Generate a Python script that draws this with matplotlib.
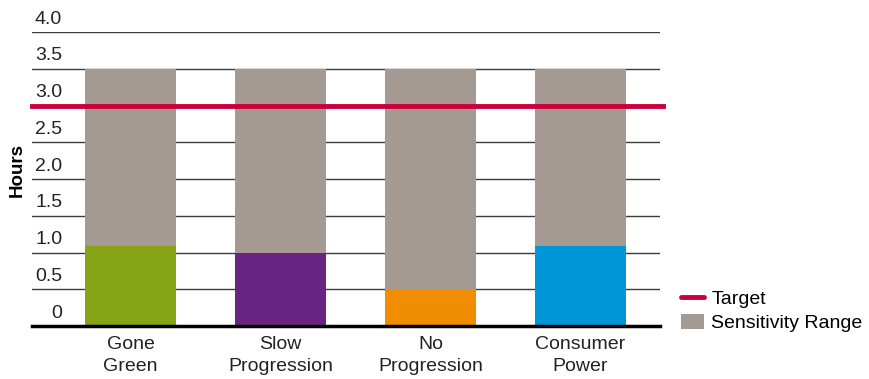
import numpy as np
import matplotlib.pyplot as plt
from matplotlib.lines import Line2D
from matplotlib.patches import Patch

plt.rcParams['font.family'] = ['Liberation Sans', 'DejaVu Sans']

# ---- data ----
scenarios = ['Gone\nGreen', 'Slow\nProgression', 'No\nProgression', 'Consumer\nPower']
low_values = [1.09, 1.0, 0.49, 1.09]
high_values = [3.5, 3.5, 3.5, 3.5]
bar_colors = ['#86A316', '#692482', '#F18D00', '#0096D7']
target = 3.0
y_ticks = [0, 0.5, 1.0, 1.5, 2.0, 2.5, 3.0, 3.5, 4.0]
y_tick_labels = ['0', '0.5', '1.0', '1.5', '2.0', '2.5', '3.0', '3.5', '4.0']

RANGE_COLOR = '#A59A91'
TARGET_COLOR = '#C8003C'
FS = 14

fig = plt.figure(figsize=(8.7, 3.79), dpi=100)
ax = fig.add_axes([32 / 870, 1 - 326 / 379, 628 / 870, 294 / 379])

x = np.arange(len(scenarios))
low = np.array(low_values)
high = np.array(high_values)

# gridlines behind bars
for yt in y_ticks[1:]:
    ax.axhline(yt, color='#3a3a3a', linewidth=1.0, zorder=0)

ax.bar(x, low, 0.607, color=bar_colors, zorder=2)
ax.bar(x, high - low, 0.607, bottom=low, color=RANGE_COLOR, zorder=2)
ax.axhline(target, color=TARGET_COLOR, linewidth=3.5, zorder=3, xmax=1.005, clip_on=False)

# tick labels sit above their gridlines, inside the plot
for yt, lab in zip(y_ticks, y_tick_labels):
    ax.annotate(lab, xy=(0.048, yt), xycoords=('axes fraction', 'data'),
                xytext=(0, 3.2), textcoords='offset points',
                ha='right', va='bottom', fontsize=FS, color='#222222')

ax.set_xlim(-0.657, 3.53)
ax.set_ylim(0, 4.0)
ax.set_xticks(x)
ax.set_xticklabels(scenarios, fontsize=FS, color='#222222', linespacing=1.38)
ax.tick_params(axis='x', length=0, pad=7)
ax.set_yticks([])

for side in ['top', 'right', 'left']:
    ax.spines[side].set_visible(False)
ax.spines['bottom'].set_linewidth(2.5)
ax.spines['bottom'].set_color('black')

fig.text(17 / 870, 1 - 170 / 379, 'Hours', rotation=90, ha='center', va='center',
         fontsize=13.5, fontweight='bold')

handles = [Line2D([0], [0], color=TARGET_COLOR, linewidth=3.5, solid_capstyle='round'),
           Patch(facecolor=RANGE_COLOR, edgecolor='none')]
fig.legend(handles, ['Target', 'Sensitivity Range'], loc='lower left',
           bbox_to_anchor=(681 / 870, 1 - 332 / 379), frameon=False, fontsize=FS,
           handlelength=1.2, handleheight=0.8, handletextpad=0.35, labelspacing=0.3,
           borderpad=0, borderaxespad=0)

fig.savefig('out.png', dpi=100)
